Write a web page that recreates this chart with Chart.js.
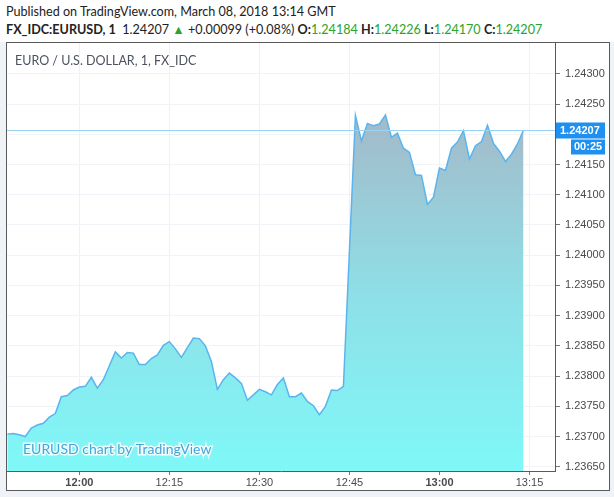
<!DOCTYPE html>
<html>
<head>
<meta charset="utf-8">
<script src="https://cdn.jsdelivr.net/npm/chart.js@4.4.1/dist/chart.umd.min.js"></script>
<style>
    body { margin: 0; background: #eff2f6; width: 614px; height: 497px; overflow: hidden; position: relative; }
    #cabecera { position: absolute; left: 0; top: 0; width: 614px; height: 42px; background: #ffffff; font-family: Lato, sans-serif; font-size: 12.6px; color: #222; }
    #linea1 { position: absolute; left: 6px; top: 4px; white-space: nowrap; }
    #linea2 { position: absolute; left: 6px; top: 22px; white-space: nowrap; }
    #linea2 b { font-weight: bold; }
    .verde { color: #2aa42a; }
    #marco { position: absolute; left: 6px; top: 42px; width: 602px; height: 447px; border: 1px solid #5a5a5a; background: #ffffff; }
    #grafico { position: absolute; left: 0; top: 0; }
</style>
</head>
<body>
<div id="cabecera">
    <div id="linea1">Published on TradingView.com, March 08, 2018 13:14 GMT</div>
    <div id="linea2"><b>FX_IDC:EURUSD, 1</b>&nbsp; 1.24207 <span class="verde">&#9650;</span> +0.00099 (+0.08%) <b>O:</b><span class="verde">1.24184</span> <b>H:</b><span class="verde">1.24226</span> <b>L:</b><span class="verde">1.24170</span> <b>C:</b><span class="verde">1.24207</span></div>
</div>
<div id="marco"></div>
<canvas id="grafico" width="614" height="497"></canvas>
<script>
//DATOS
var horas = ['11:48', '11:49', '11:50', '11:51', '11:52', '11:53', '11:54', '11:55', '11:56', '11:57',
    '11:58', '11:59', '12:00', '12:01', '12:02', '12:03', '12:04', '12:05', '12:06', '12:07',
    '12:08', '12:09', '12:10', '12:11', '12:12', '12:13', '12:14', '12:15', '12:16', '12:17',
    '12:18', '12:19', '12:20', '12:21', '12:22', '12:23', '12:24', '12:25', '12:26', '12:27',
    '12:28', '12:29', '12:30', '12:31', '12:32', '12:33', '12:34', '12:35', '12:36', '12:37',
    '12:38', '12:39', '12:40', '12:41', '12:42', '12:43', '12:44', '12:45', '12:46', '12:47',
    '12:48', '12:49', '12:50', '12:51', '12:52', '12:53', '12:54', '12:55', '12:56', '12:57',
    '12:58', '12:59', '13:00', '13:01', '13:02', '13:03', '13:04', '13:05', '13:06', '13:07',
    '13:08', '13:09', '13:10', '13:11', '13:12', '13:13', '13:14'];
var precios = [1.23704, 1.23705, 1.23703, 1.23700, 1.23714, 1.23719, 1.23722, 1.23732, 1.23738, 1.23766,
    1.23768, 1.23777, 1.23782, 1.23783, 1.23798, 1.23780, 1.23794, 1.23817, 1.23840, 1.23830,
    1.23839, 1.23838, 1.23819, 1.23819, 1.23829, 1.23835, 1.23851, 1.23857, 1.23845, 1.23831,
    1.23847, 1.23863, 1.23862, 1.23850, 1.23824, 1.23778, 1.23794, 1.23805, 1.23797, 1.23788,
    1.23760, 1.23769, 1.23778, 1.23774, 1.23769, 1.23786, 1.23797, 1.23766, 1.23766, 1.23772,
    1.23758, 1.23751, 1.23736, 1.23750, 1.23777, 1.23776, 1.23783, 1.24007, 1.24231, 1.24189,
    1.24218, 1.24214, 1.24217, 1.24232, 1.24195, 1.24202, 1.24177, 1.24170, 1.24133, 1.24132,
    1.24084, 1.24096, 1.24144, 1.24140, 1.24177, 1.24187, 1.24206, 1.24159, 1.24181, 1.24188,
    1.24215, 1.24185, 1.24172, 1.24155, 1.24167, 1.24184, 1.24207];
var etiquetasX = ['12:00', '12:15', '12:30', '12:45', '13:00', '13:15'];
var etiquetasY = [1.23650, 1.23700, 1.23750, 1.23800, 1.23850, 1.23900, 1.23950, 1.24000,
    1.24050, 1.24100, 1.24150, 1.24200, 1.24250, 1.24300];
var ultimoPrecio = 1.24207;
var cuentaAtras = '00:25';

// minutos desde las 12:00
function minutos(h) {
    var p = h.split(':');
    return (parseInt(p[0]) - 12) * 60 + parseInt(p[1]);
}

var puntos = [];
for (var i = 0; i < horas.length; i++) {
    puntos.push({ x: minutos(horas[i]), y: precios[i] });
}

var extras = {
    id: 'extras',
    afterDatasetsDraw: function (chart) {
        var ctx = chart.ctx;
        var area = chart.chartArea;
        ctx.save();
        // titulo
        ctx.font = '12.5px Lato';
        ctx.fillStyle = '#4c525e';
        ctx.textBaseline = 'middle';
        ctx.textAlign = 'left';
        ctx.fillText('EURO / U.S. DOLLAR, 1, FX_IDC', 15, 61);
        // marca de agua
        ctx.font = '14px Lato';
        ctx.lineWidth = 3;
        ctx.strokeStyle = 'rgba(255,255,255,0.85)';
        ctx.strokeText('EURUSD chart by TradingView', 23, 449);
        ctx.fillStyle = '#45a5da';
        ctx.fillText('EURUSD chart by TradingView', 23, 449);
        // linea de precio
        var y = Math.round(chart.scales.y.getPixelForValue(ultimoPrecio)) + 0.5;
        ctx.strokeStyle = '#9ad3f5';
        ctx.lineWidth = 1;
        ctx.beginPath();
        ctx.moveTo(area.left, y);
        ctx.lineTo(area.right, y);
        ctx.stroke();
        ctx.fillStyle = '#1e90f0';
        ctx.fillRect(area.right + 1, y - 8, 49, 16);
        ctx.fillRect(area.right + 16, y + 9, 34, 15);
        ctx.fillStyle = '#ffffff';
        ctx.font = 'bold 11px "Liberation Sans"';
        ctx.fillText(ultimoPrecio.toFixed(5), area.right + 5, y);
        ctx.fillText(cuentaAtras, area.right + 19, y + 16.5);
        ctx.restore();
    }
};

var mostrar = document.getElementById('grafico');
var grafico = new Chart(mostrar, {
    type: 'line',
    data: {
        datasets: [{
            data: puntos,
            borderColor: '#5ab4ee',
            borderWidth: 1.5,
            pointRadius: 0,
            tension: 0,
            fill: 'start',
            backgroundColor: function (context) {
                var area = context.chart.chartArea;
                if (!area) {
                    return '#80f6f7';
                }
                var g = context.chart.ctx.createLinearGradient(0, area.top, 0, area.bottom);
                g.addColorStop(0, '#aab3c4');
                g.addColorStop(0.2, '#a2bccb');
                g.addColorStop(0.6, '#8ee0e7');
                g.addColorStop(1, '#7ff8f8');
                return g;
            }
        }]
    },
    options: {
        responsive: false,
        animation: false,
        devicePixelRatio: 1,
        layout: {
            padding: { left: 7, top: 43, right: 0, bottom: 0 }
        },
        plugins: {
            legend: { display: false },
            tooltip: { enabled: false }
        },
        scales: {
            x: {
                type: 'linear',
                min: -12.05,
                max: 79.25,
                afterFit: function (s) { s.height = 26; },
                afterBuildTicks: function (s) {
                    s.ticks = etiquetasX.map(function (t) { return { value: minutos(t) }; });
                },
                grid: { color: '#eef1f5', tickColor: '#777', tickLength: 4 },
                border: { color: '#5a5a5a' },
                ticks: {
                    autoSkip: false,
                    maxRotation: 0,
                    padding: 1,
                    color: '#4a4a4a',
                    font: function (c) {
                        var l = etiquetasX[c.index];
                        return { family: 'Liberation Sans', size: 11, weight: (l == '12:00' || l == '13:00') ? 'bold' : 'normal' };
                    },
                    callback: function (v, i) { return etiquetasX[i]; }
                }
            },
            y: {
                position: 'right',
                min: 1.23643,
                max: 1.24351,
                afterFit: function (s) { s.width = 59; },
                afterBuildTicks: function (s) {
                    s.ticks = etiquetasY.map(function (t) { return { value: t }; });
                },
                grid: { color: '#f0f3f8', tickColor: '#777', tickLength: 5 },
                border: { color: '#5a5a5a' },
                ticks: {
                    crossAlign: 'near',
                    padding: 5,
                    color: '#4a4a4a',
                    font: { family: 'Liberation Sans', size: 11 },
                    callback: function (v) { return v.toFixed(5); }
                }
            }
        }
    },
    plugins: [extras]
});
</script>
</body>
</html>
